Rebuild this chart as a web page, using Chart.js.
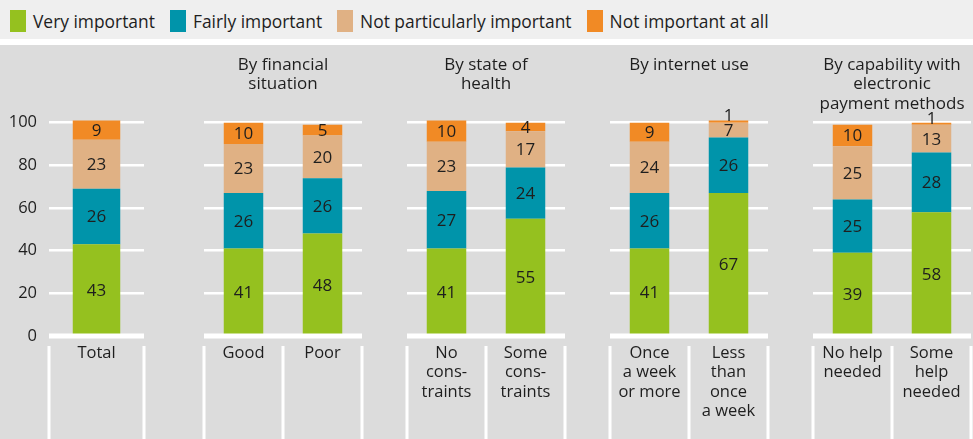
<!DOCTYPE html>
<html><head><meta charset="utf-8">
<script src="https://cdn.jsdelivr.net/npm/chart.js@4/dist/chart.umd.min.js"></script>
<style>
html,body{margin:0;padding:0;width:973px;height:439px;overflow:hidden;background:#fff;font-family:"Open Sans",sans-serif;}
#legend{position:absolute;left:0;top:0;width:973px;height:39px;background:#efefef;display:flex;align-items:center;padding:3px 0 0 10px;box-sizing:border-box;}
.item{display:flex;align-items:center;margin-right:15px;font-size:17.4px;color:#1e1e1e;white-space:nowrap;}
.box{width:16px;height:22px;margin-right:7px;flex:none;}
#panel{position:absolute;left:0;top:45px;width:973px;height:394px;background:#dcdcdc;}
#panel canvas{position:absolute;top:0;}
</style></head>
<body>
<div id="legend"></div>
<div id="panel"></div>
<script>
// ---- data ----
const seriesNames = ['Very important', 'Fairly important', 'Not particularly important', 'Not important at all'];
const seriesColors = ['#95c11f', '#0094aa', '#e0b184', '#f18a25'];
const groupTitles = [
  [],
  ['By financial', 'situation'],
  ['By state of', 'health'],
  ['By internet use'],
  ['By capability with', 'electronic', 'payment methods']
];
const groupCategories = [
  [['Total']],
  [['Good'], ['Poor']],
  [['No', 'cons-', 'traints'], ['Some', 'cons-', 'traints']],
  [['Once', 'a week', 'or more'], ['Less', 'than', 'once', 'a week']],
  [['No help', 'needed'], ['Some', 'help', 'needed']]
];
const veryImportant   = [43, 41, 48, 41, 55, 41, 67, 39, 58];
const fairlyImportant = [26, 26, 26, 27, 24, 26, 26, 25, 28];
const notParticularly = [23, 23, 20, 23, 17, 24, 7, 25, 13];
const notAtAll        = [9, 10, 5, 10, 4, 9, 1, 10, 1];
const yTicks = [0, 20, 40, 60, 80, 100];
const seriesValues = [veryImportant, fairlyImportant, notParticularly, notAtAll];

// ---- layout (styling only) ----
const groupBoxes = [[49, 95], [204, 158], [407, 158], [610, 158], [813, 158]];
const PAD = 4;
const FONT = '"Open Sans", sans-serif';
const TEXT = '#1e1e1e';

// legend
const legend = document.getElementById('legend');
seriesNames.forEach((n, i) => {
  const it = document.createElement('div'); it.className = 'item';
  const b = document.createElement('div'); b.className = 'box'; b.style.background = seriesColors[i];
  const t = document.createElement('span'); t.textContent = n;
  it.appendChild(b); it.appendChild(t); legend.appendChild(it);
});

const decor = {
  id: 'decor',
  afterDatasetsDraw(chart, args, opts) {
    const ctx = chart.ctx, ca = chart.chartArea, y = chart.scales.y;
    ctx.save();
    // value labels
    ctx.font = '17px ' + FONT; ctx.fillStyle = TEXT; ctx.textAlign = 'center'; ctx.textBaseline = 'middle';
    chart.data.datasets.forEach((ds, di) => {
      const meta = chart.getDatasetMeta(di);
      meta.data.forEach((bar, i) => {
        const v = ds.data[i];
        let cy = (bar.y + bar.base) / 2;
        if (v < 3) cy -= 6;
        ctx.fillText(String(v), bar.x, cy + 1);
      });
    });
    // zero line
    const y0 = y.getPixelForValue(0);
    ctx.fillStyle = '#ffffff';
    ctx.fillRect(ca.left, y0 - 2.5, ca.right - ca.left, 5);
    // separators below the axis
    const n = chart.data.labels.length;
    const cw = (ca.right - ca.left) / n;
    for (let i = 0; i <= n; i++) {
      const px = ca.left + i * cw;
      ctx.fillRect(px - 1.5, ca.bottom + 10, 3, chart.height - ca.bottom - 10);
    }
    // group title
    const lines = opts.lines || [];
    ctx.fillStyle = TEXT; ctx.font = '17px ' + FONT;
    const cx = (ca.left + ca.right) / 2;
    lines.forEach((l, k) => ctx.fillText(l, cx, 20 + k * 19.5));
    ctx.restore();
  }
};

const panel = document.getElementById('panel');
let offset = 0;
groupBoxes.forEach(([gx, gw], g) => {
  const cats = groupCategories[g];
  const first = g === 0;
  const left = first ? 0 : gx - PAD;
  const width = first ? gx + gw + PAD : gw + 2 * PAD;
  const cv = document.createElement('canvas');
  cv.width = width; cv.height = 394;
  cv.style.left = left + 'px'; cv.style.width = width + 'px'; cv.style.height = '394px';
  panel.appendChild(cv);
  const start = offset; offset += cats.length;
  new Chart(cv, {
    type: 'bar',
    data: {
      labels: cats,
      datasets: seriesNames.map((name, s) => ({
        label: name,
        data: seriesValues[s].slice(start, start + cats.length),
        backgroundColor: seriesColors[s],
        borderWidth: 0,
        barPercentage: 0.5,
        categoryPercentage: 1.0
      }))
    },
    options: {
      responsive: false,
      animation: false,
      devicePixelRatio: 1,
      layout: { padding: { top: 67, bottom: 0, left: first ? 0 : PAD, right: PAD } },
      plugins: { legend: { display: false }, tooltip: { enabled: false }, title: { display: false }, decor: { lines: groupTitles[g] } },
      scales: {
        x: {
          stacked: true,
          offset: true,
          grid: { display: false, drawTicks: false },
          border: { display: false },
          ticks: { font: { family: FONT, size: 16.5, lineHeight: 1.16 }, color: TEXT, padding: 8, maxRotation: 0, autoSkip: false },
          afterFit: s => { s.height = 103; }
        },
        y: {
          stacked: true,
          min: 0, max: 105,
          afterBuildTicks: s => { s.ticks = yTicks.map(v => ({ value: v })); },
          grid: { color: '#ffffff', lineWidth: c => (c.tick && c.tick.value === 0 ? 0 : 2.5), drawTicks: false },
          border: { display: false },
          ticks: { display: first, font: { family: FONT, size: 16.5 }, color: TEXT, padding: 12 },
          afterFit: s => { s.width = first ? gx : 0; }
        }
      }
    },
    plugins: [decor]
  });
});
</script>
</body></html>
